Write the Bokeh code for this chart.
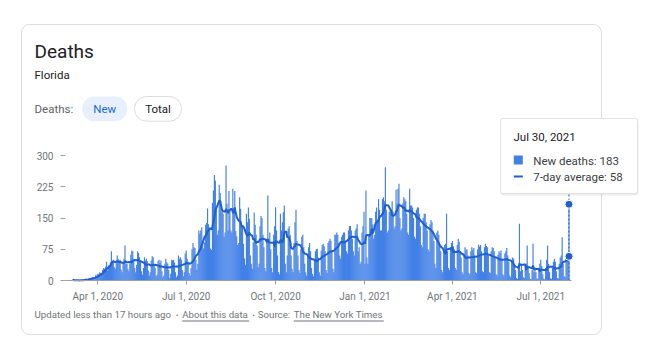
import pandas as pd
from bokeh.plotting import figure
from bokeh.models import Label, BoxAnnotation, FixedTicker, Range1d, ColumnDataSource
from bokeh.embed import file_html
from bokeh.resources import INLINE

# ---------------- data ----------------
START = "2020-03-06"   # first day, a Friday; each row = Fri..Thu
weeks = [
    [2, 0, 0, 0, 0, 1, 0],
    [1, 1, 0, 2, 0, 3, 2],
    [4, 3, 2, 5, 6, 5, 7],
    [9, 6, 6, 14, 10, 16, 15],
    [20, 18, 14, 26, 30, 28, 33],
    [45, 24, 36, 38, 44, 70, 48],
    [50, 32, 28, 42, 60, 52, 48],
    [50, 26, 20, 44, 52, 84, 40],
    [40, 28, 22, 40, 62, 72, 70],
    [48, 30, 20, 38, 70, 66, 56],
    [44, 22, 14, 30, 56, 48, 52],
    [46, 24, 12, 20, 48, 58, 56],
    [40, 30, 10, 14, 46, 50, 42],
    [48, 22, 8, 12, 40, 52, 44],
    [40, 25, 6, 16, 50, 48, 50],
    [43, 20, 8, 12, 60, 52, 56],
    [50, 25, 10, 20, 65, 72, 52],
    [45, 18, 12, 30, 75, 90, 80],
    [78, 50, 26, 40, 120, 112, 120],
    [128, 90, 77, 92, 134, 138, 173],
    [135, 124, 77, 73, 186, 216, 253],
    [240, 175, 110, 120, 230, 210, 165],
    [170, 160, 105, 115, 276, 184, 120],
    [215, 170, 120, 115, 220, 174, 215],
    [119, 106, 85, 90, 200, 172, 135],
    [130, 88, 53, 38, 160, 140, 175],
    [148, 60, 40, 28, 92, 163, 134],
    [110, 84, 32, 40, 130, 155, 150],
    [110, 80, 30, 22, 100, 204, 90],
    [115, 75, 30, 20, 110, 130, 176],
    [120, 60, 20, 15, 160, 120, 140],
    [164, 180, 40, 20, 60, 125, 130],
    [110, 60, 28, 20, 90, 140, 170],
    [95, 60, 25, 18, 75, 105, 110],
    [80, 40, 20, 12, 60, 80, 90],
    [70, 30, 16, 10, 52, 70, 75],
    [76, 55, 20, 12, 72, 85, 88],
    [82, 70, 25, 18, 90, 95, 100],
    [95, 70, 28, 20, 110, 110, 115],
    [110, 90, 60, 52, 105, 110, 115],
    [115, 95, 70, 65, 120, 130, 131],
    [120, 100, 70, 60, 120, 125, 135],
    [70, 80, 40, 45, 115, 130, 165],
    [40, 216, 55, 40, 110, 150, 150],
    [150, 135, 100, 110, 165, 175, 145],
    [195, 170, 120, 120, 195, 200, 190],
    [272, 170, 115, 120, 165, 170, 160],
    [190, 165, 125, 130, 218, 185, 220],
    [232, 150, 120, 125, 185, 200, 195],
    [190, 160, 115, 110, 220, 180, 180],
    [175, 150, 105, 100, 170, 175, 175],
    [160, 130, 85, 80, 150, 160, 160],
    [140, 120, 75, 70, 135, 145, 140],
    [120, 95, 40, 30, 115, 120, 110],
    [85, 70, 25, 20, 75, 85, 88],
    [160, 70, 30, 25, 80, 90, 95],
    [82, 75, 30, 25, 85, 100, 93],
    [70, 55, 20, 15, 65, 80, 73],
    [75, 60, 18, 15, 70, 80, 74],
    [78, 62, 20, 18, 75, 86, 81],
    [85, 70, 22, 20, 80, 88, 83],
    [80, 60, 20, 18, 70, 80, 78],
    [70, 55, 15, 12, 62, 70, 66],
    [72, 52, 15, 12, 65, 70, 78],
    [60, 45, 12, 8, 48, 55, 52],
    [35, 25, 6, 4, 30, 136, 22],
    [40, 25, 8, 6, 35, 40, 84],
    [30, 18, 4, 3, 25, 88, 20],
    [32, 20, 5, 4, 30, 40, 50],
    [35, 15, 4, 3, 30, 50, 84],
    [40, 20, 5, 4, 30, 45, 52],
    [45, 22, 6, 5, 40, 55, 60],
    [104, 40, 10, 8, 60, 55, 50],
]
last_day = [183]

y_ticks = [0, 75, 150, 225, 300]
x_tick_dates = ["2020-04-01", "2020-07-01", "2020-10-01", "2021-01-01", "2021-04-01", "2021-07-01"]
x_tick_labels = ["Apr 1, 2020", "Jul 1, 2020", "Oct 1, 2020", "Jan 1, 2021", "Apr 1, 2021", "Jul 1, 2021"]
tooltip_date = "Jul 30, 2021"

# ---------------- derived ----------------
new_deaths = [v for w in weeks for v in w] + last_day
dates = pd.date_range(START, periods=len(new_deaths), freq="D")
avg = pd.Series(new_deaths, dtype=float).rolling(7, min_periods=1).mean()
src = ColumnDataSource(dict(date=dates, new=new_deaths, avg=avg.values))

BAR = "#4280e6"
LINE = "#1f5fcf"
GREY = "#70757a"
DARK = "#202124"
FONT = "Roboto"

# ---------------- layout: frame covers the whole canvas ----------------
W, H = 648, 352
ANCHOR = pd.Timestamp("2020-04-01")
ANCHOR_PX = 97.3          # pixel column of the anchor date
PX_PER_DAY = 0.9715
Y0_PX, Y300_PX = 280.0, 155.0
UNITS_PER_PX = 300.0 / (Y0_PX - Y300_PX)
TEXT_LIFT = 4.5           # svg text sits a little low; lift labels


def px_to_date(x):
    return ANCHOR + pd.Timedelta(days=(x - ANCHOR_PX) / PX_PER_DAY)


def px_to_val(y):
    return (Y0_PX - y) * UNITS_PER_PX


p = figure(width=W, height=H, output_backend="svg", toolbar_location=None,
           x_axis_type="datetime",
           x_range=Range1d(px_to_date(0), px_to_date(W)),
           y_range=Range1d(px_to_val(H), px_to_val(0)),
           min_border=0)
p.title.visible = False
p.outline_line_color = None
p.grid.grid_line_color = None
p.background_fill_color = "white"
p.border_fill_color = "white"


def box(l, r, t, b, fill, line=None, radius=0, level="annotation", alpha=1.0):
    p.add_layout(BoxAnnotation(left=l, right=r, top=t, bottom=b,
                               left_units="canvas", right_units="canvas",
                               top_units="canvas", bottom_units="canvas",
                               fill_color=fill, fill_alpha=alpha,
                               line_color=line if line else "white", line_width=1,
                               line_alpha=1 if line else 0,
                               border_radius=radius, level=level))


def label(text, x, y, size="11.5px", color=DARK, align="left", level="annotation"):
    p.add_layout(Label(x=x, y=y - TEXT_LIFT, x_units="canvas", y_units="canvas", text=text,
                       text_font=FONT, text_font_size=size, text_color=color,
                       text_align=align, text_baseline="alphabetic", level=level))


# card
box(21, 601, 24, 334, "white", line="#dadce0", radius=8, level="underlay")

day_ms = 86400000
p.vbar(x="date", top="new", width=1.2 * day_ms, source=src, color=BAR, line_color=None)
p.line(x="date", y="avg", source=src, color=LINE, line_width=2)

# axes (placed at fixed data locations inside the frame)
axis_left = px_to_date(65)
axis_right = px_to_date(571)
xa = p.xaxis[0]
tick_ms = [float(pd.Timestamp(d).value // 10**6) for d in x_tick_dates]
xa.ticker = FixedTicker(ticks=tick_ms)
xa.major_label_overrides = {t: l for t, l in zip(tick_ms, x_tick_labels)}
xa.fixed_location = 0
xa.bounds = (axis_left, axis_right)
xa.axis_line_color = "#9aa0a6"
xa.major_tick_line_color = "#9aa0a6"
xa.major_tick_in = 0
xa.major_tick_out = 4
xa.minor_tick_line_color = None
xa.major_label_standoff = 6
xa.major_label_text_font = FONT
xa.major_label_text_font_size = "10px"
xa.major_label_text_color = GREY

ya = p.yaxis[0]
ya.ticker = FixedTicker(ticks=y_ticks)
ya.fixed_location = float(axis_left.value // 10**6)
ya.bounds = (0, 300)
ya.axis_line_color = None
ya.major_tick_line_color = "#9aa0a6"
ya.major_tick_in = 0
ya.major_tick_out = 5
ya.minor_tick_line_color = None
ya.major_label_standoff = 7
ya.major_label_text_font = FONT
ya.major_label_text_font_size = "10px"
ya.major_label_text_color = GREY

# hover marker: dashed guide from the baseline up under the tooltip
last_date = dates[-1]
p.segment(x0=[last_date], y0=[0], x1=[last_date], y1=[px_to_val(150)],
          line_color=LINE, line_dash="2 2", line_width=1)
p.scatter(x=[last_date, last_date], y=[new_deaths[-1], round(avg.iloc[-1])], size=8,
          fill_color=LINE, line_color="white", line_width=1)

# header
label("Deaths", 34, 55, size="19px")
label("Florida", 34, 79, size="11.5px")
label("Deaths:", 34, 112.7, size="11.5px", color="#5f6368")
box(81.7, 126.7, 96, 120.7, "#e8f0fe", radius=12)
label("New", 104.2, 112.7, size="11.5px", color="#1967d2", align="center")
box(134, 181, 96, 120.7, "white", line="#dadce0", radius=12)
label("Total", 157.5, 112.7, size="11.5px", color=DARK, align="center")

# footer
FS = "9.7px"
label("Updated less than 17 hours ago", 34, 318.3, size=FS, color=GREY)
label("\u2022", 176.7, 320.3, size="7px", color=GREY, align="center")
label("About this data", 181.7, 318.3, size=FS, color=GREY)
box(181.7, 248.7, 320, 321, GREY)
label("\u2022", 253.3, 320.3, size="7px", color=GREY, align="center")
label("Source:", 257.3, 318.3, size=FS, color=GREY)
label("The New York Times", 293.3, 318.3, size=FS, color=GREY)
box(293.3, 383.3, 320, 321, GREY)

# tooltip
box(500, 638, 119, 195, "#000000", radius=3, level="overlay", alpha=0.07)
box(500, 637, 118, 193, "white", line="#e3e3e3", radius=2, level="overlay")
label(tooltip_date, 513, 141, size="11.5px", color=DARK, level="overlay")
box(513.3, 522.3, 155, 164, BAR, level="overlay")
label(f"New deaths: {new_deaths[-1]}", 532.7, 165, size="11.5px", color="#3c4043", level="overlay")
box(513.3, 522.3, 175, 177, LINE, level="overlay")
label(f"7-day average: {round(avg.iloc[-1])}", 532.7, 181, size="11.5px", color="#3c4043", level="overlay")

open("out.html", "w").write(file_html(p, INLINE))
